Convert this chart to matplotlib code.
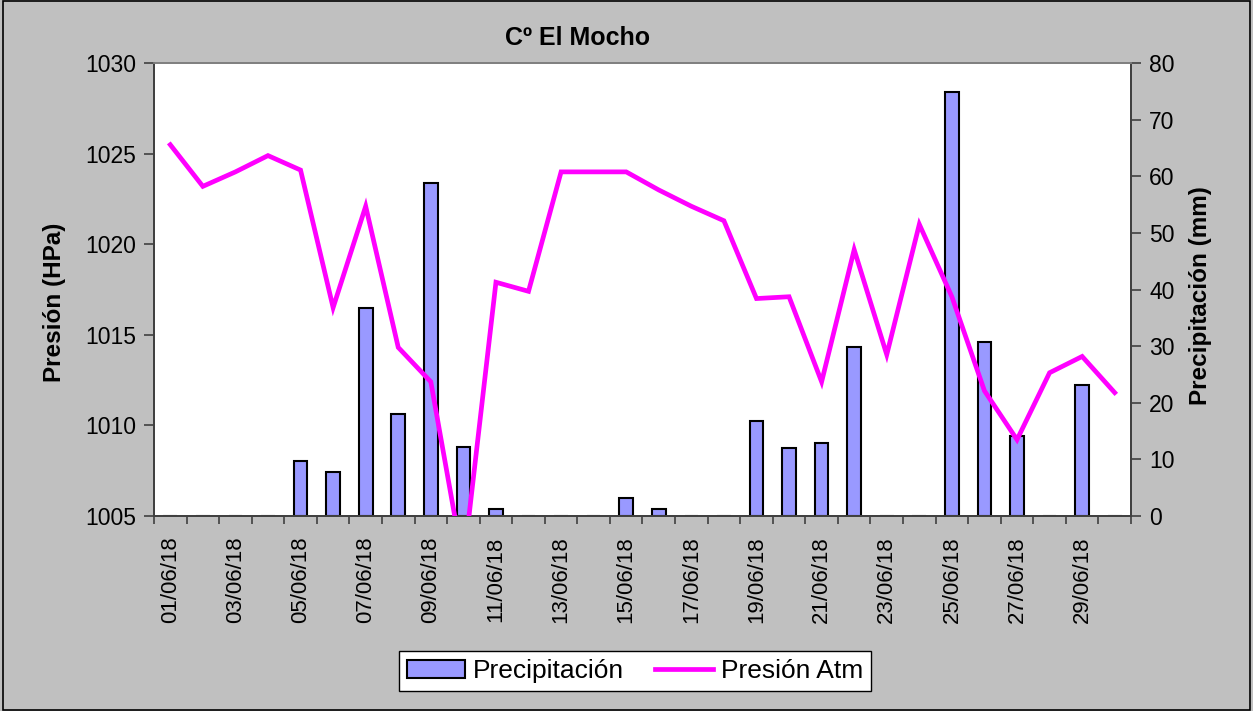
import matplotlib
matplotlib.use("Agg")
import matplotlib.pyplot as plt
import numpy as np
from matplotlib.patches import Rectangle, Patch
from matplotlib.lines import Line2D

plt.rcParams['font.family'] = ['Liberation Sans', 'DejaVu Sans']

dates = ["%02d/06/18" % d for d in range(1, 31)]
precip = [0, 0, 0, 0, 9.7, 7.7, 36.8, 17.9, 58.8, 12.1,
          1.1, 0, 0, 0, 3.1, 1.1, 0, 0, 16.8, 12.0,
          12.8, 29.8, 0, 0, 74.9, 30.8, 14.1, 0, 23.1, 0]
pressure = [1025.5, 1023.2, 1024.0, 1024.9, 1024.1, 1016.5, 1022.1, 1014.3, 1012.4, 1002.3,
            1017.9, 1017.4, 1024.0, 1024.0, 1024.0, 1023.0, 1022.1, 1021.3, 1017.0, 1017.1,
            1012.4, 1019.7, 1013.9, 1021.1, 1017.1, 1011.9, 1009.2, 1012.9, 1013.8, 1011.8]

W, H = 1253, 711
fig = plt.figure(figsize=(W / 100, H / 100), dpi=100)
fig.patch.set_facecolor('#C0C0C0')
fig.patches.append(Rectangle((0.002, 0.002), 0.996, 0.996, transform=fig.transFigure,
                             fill=False, edgecolor='black', lw=1.2))

left, right, top, bottom = 154, 1131, 63.3, 515.7
ax = fig.add_axes([left / W, 1 - bottom / H, (right - left) / W, (bottom - top) / H])
ax.set_facecolor('white')
ax2 = ax.twinx()
x = np.arange(len(dates))

ax.bar(x, precip, width=0.42, color='#9999FF', edgecolor='black', linewidth=1.5, zorder=2)
ax.set_ylim(0, 80)
ax.set_xlim(-0.5, len(dates) - 0.5)
ax.set_yticks(np.arange(0, 81, 10))

ax2.plot(x, pressure, color='#FF00FF', lw=3.4, solid_joinstyle='miter', zorder=3)
ax2.set_ylim(1005, 1030)
ax2.set_yticks(np.arange(1005, 1031, 5))
ax2.patch.set_visible(False)

ax.yaxis.tick_right()
ax2.yaxis.tick_left()

for a in (ax, ax2):
    for s in a.spines.values():
        s.set_color('#404040')
        s.set_linewidth(1.3)
    a.spines['top'].set_color('#808080')
    a.tick_params(axis='y', direction='out', length=7, width=1.2, colors='#404040',
                  labelcolor='black', labelsize=16.5, pad=6)

ax.set_xticks(x[::2])
ax.set_xticklabels(dates[::2], rotation=90, fontsize=16, va='top', ha='center')
ax.set_xticks(np.arange(-0.5, len(dates)), minor=True)
ax.tick_params(axis='x', which='major', length=0, pad=15)
ax.tick_params(axis='x', which='minor', direction='out', length=6, width=1.2, colors='#404040')

fig.text(578 / W, 1 - 38 / H, 'Cº El Mocho', fontsize=18, fontweight='bold',
         ha='center', va='center')
fig.text(55 / W, 1 - 302 / H, 'Presión (HPa)', fontsize=17.5, fontweight='bold',
         rotation=90, ha='center', va='center')
fig.text(1200 / W, 1 - 296 / H, 'Precipitación (mm)', fontsize=17.5, fontweight='bold',
         rotation=90, ha='center', va='center')

handles = [Patch(facecolor='#9999FF', edgecolor='black', linewidth=1.5),
           Line2D([0], [0], color='#FF00FF', lw=3.4)]
leg = fig.legend(handles, ['Precipitación', 'Presión Atm'], loc='center',
                 bbox_to_anchor=(635 / W, 1 - 671 / H), ncol=2, fontsize=19,
                 frameon=True, fancybox=False, edgecolor='black', framealpha=1,
                 handlelength=2.2, handletextpad=0.3, columnspacing=1.2, borderpad=0.3)
leg.get_frame().set_linewidth(1.0)

fig.savefig('out.png', dpi=100, facecolor=fig.get_facecolor())
